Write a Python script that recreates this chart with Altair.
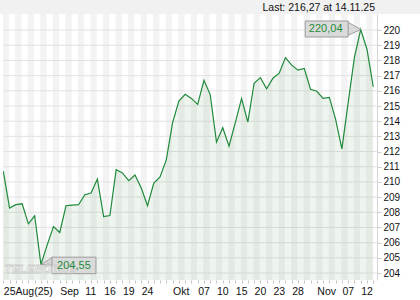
import altair as alt
import pandas as pd

# ---- data ----
values = [210.70, 208.28, 208.50, 208.56, 207.24, 207.77, 204.55, 205.85, 207.06, 206.67,
          208.43, 208.47, 208.50, 209.16, 209.27, 210.19, 207.72, 207.79, 210.81, 210.59,
          210.08, 210.46, 209.60, 208.43, 209.93, 210.33, 211.47, 213.90, 215.33, 215.77,
          215.50, 215.11, 216.69, 215.75, 212.62, 213.57, 212.35, 213.90, 215.48, 213.94,
          216.50, 216.87, 216.14, 216.83, 217.16, 218.19, 217.69, 217.36, 217.47, 216.10,
          215.97, 215.50, 215.57, 214.12, 212.18, 215.22, 218.20, 220.04, 218.74, 216.27]
label_idx = [0, 9, 13, 16, 19, 22, 27, 31, 34, 37, 40, 43, 46, 50, 54, 57]
label_txt = ["25Aug(25)", "Sep", "11", "16", "19", "24", "Okt", "07", "10", "15",
             "20", "23", "28", "Nov", "07", "12"]
y_ticks = list(range(204, 221))
hi_idx, hi_txt = 57, "220,04"
lo_idx, lo_txt = 6, "204,55"
last_text = "Last: 216,27 at 14.11.25"
watermark = "TELEBÖRSE"

W, H = 374, 266
FONT = "Liberation Sans"
GREEN = "#1f8a3b"

df = pd.DataFrame({"i": list(range(len(values))), "v": values})
n = len(values)
bands = pd.DataFrame({"i": [2 * k - 0.1 for k in range((n + 1) // 2)],
                      "b": [2 * k + 0.9 for k in range((n + 1) // 2)]})
grid = pd.DataFrame({"v": y_ticks})
hi = pd.DataFrame({"i": [hi_idx], "v": [values[hi_idx]], "t": [hi_txt]})
lo = pd.DataFrame({"i": [lo_idx], "v": [values[lo_idx]], "t": [lo_txt]})

xs = alt.Scale(domain=[-0.05, 59.6], nice=False, zero=False)
ys = alt.Scale(domain=[203.54, 221.06], nice=False, zero=False)

label_expr = " : ".join(f"datum.value == {i} ? '{t}'" for i, t in zip(label_idx, label_txt)) + " : ''"

X_AXIS = alt.Axis(values=list(range(n)), labelExpr=label_expr, orient="bottom",
                  domain=False, grid=False, tickSize=3, tickColor="#c4c4c4",
                  labelAlign="left", labelPadding=3, labelFontSize=10.5,
                  labelFont=FONT, labelColor="#111", labelOverlap=False,
                  labelFlush=False, labelBound=False, title=None)
Y_AXIS = alt.Axis(values=y_ticks, orient="right", grid=False, domain=True,
                  domainColor="#d4d4d4", tickSize=4, tickColor="#cfcfcf",
                  labelAlign="left", labelPadding=2, labelFontSize=10,
                  labelFont=FONT, labelColor="#111", labelOverlap=False, title=None)

XI = alt.X("i:Q", scale=xs, axis=X_AXIS, title=None)
YV = alt.Y("v:Q", scale=ys, axis=Y_AXIS, title=None)

top_strip = alt.Chart(pd.DataFrame({"k": [0]})).mark_rect(color="#f1f1f1", clip=False).encode(
    x=alt.value(-3), x2=alt.value(W + 43), y=alt.value(-14), y2=alt.value(0))

title = alt.Chart(pd.DataFrame({"t": [last_text]})).mark_text(
    align="right", baseline="middle", font=FONT, fontSize=10.5, color="#111", clip=False
).encode(x=alt.value(372), y=alt.value(-6.5), text="t:N")

stripes = alt.Chart(bands).mark_rect(color="#f3f3f3", clip=True).encode(
    x=XI, x2="b:Q", y=alt.value(0), y2=alt.value(H))

gridlines = alt.Chart(grid).mark_rule(color="#e2e2e2", strokeWidth=1).encode(
    y=YV, x=alt.value(0), x2=alt.value(W))

area = alt.Chart(df).mark_area(color="#5a9a55", opacity=0.1, clip=True).encode(
    x=XI, y=YV, y2=alt.value(H))

line = alt.Chart(df).mark_line(color=GREEN, strokeWidth=1.2, clip=True).encode(x=XI, y=YV)

box_style = dict(fill="#dadada", stroke="#9c9c9c", strokeWidth=1)

hi_ptr = alt.Chart(hi).mark_point(shape="M0,0L-1.3,-0.75L-1.3,0.6Z", size=400, filled=True,
                                  opacity=1, **box_style).encode(x=XI, y=YV)
hi_box = alt.Chart(hi).mark_rect(xOffset=-55.5, x2Offset=-12.5, yOffset=-8.5, y2Offset=7.5,
                                 **box_style).encode(x=XI, x2="i:Q", y=YV, y2="v:Q")
hi_text = alt.Chart(hi).mark_text(dx=-35, dy=0, baseline="middle", align="center", font=FONT,
                                  fontSize=11, color=GREEN).encode(x=XI, y=YV, text="t:N")

lo_ptr = alt.Chart(lo).mark_point(shape="M0,0L1.2,-0.75L1.2,0.05Z", size=400, filled=True,
                                  opacity=1, **box_style).encode(x=XI, y=YV)
lo_box = alt.Chart(lo).mark_rect(xOffset=11, x2Offset=55, yOffset=-7.5, y2Offset=9,
                                 **box_style).encode(x=XI, x2="i:Q", y=YV, y2="v:Q")
lo_text = alt.Chart(lo).mark_text(dx=33, dy=1, baseline="middle", align="center", font=FONT,
                                  fontSize=11, color=GREEN).encode(x=XI, y=YV, text="t:N")

wm = alt.Chart(pd.DataFrame({"t": [watermark]})).mark_text(
    font=FONT, fontSize=11.5, fontWeight="bold", fontStyle="italic", fill="#ffffff",
    stroke="#c9c9c9", strokeWidth=0.8, opacity=0.9, baseline="middle", align="center"
).encode(x=alt.value(37), y=alt.value(255.5), text="t:N")

chart = alt.layer(
    top_strip, title, stripes, gridlines, area, line,
    hi_ptr, hi_box, hi_text, lo_ptr, lo_box, wm, lo_text
).properties(
    width=W, height=H,
    padding={"left": 3, "top": 14, "right": 43, "bottom": 20},
    autosize=alt.AutoSizeParams(type="none"),
    background="#ffffff"
).configure_view(stroke=None)

chart.save("out.html", embed_options={"renderer": "svg", "actions": False})
